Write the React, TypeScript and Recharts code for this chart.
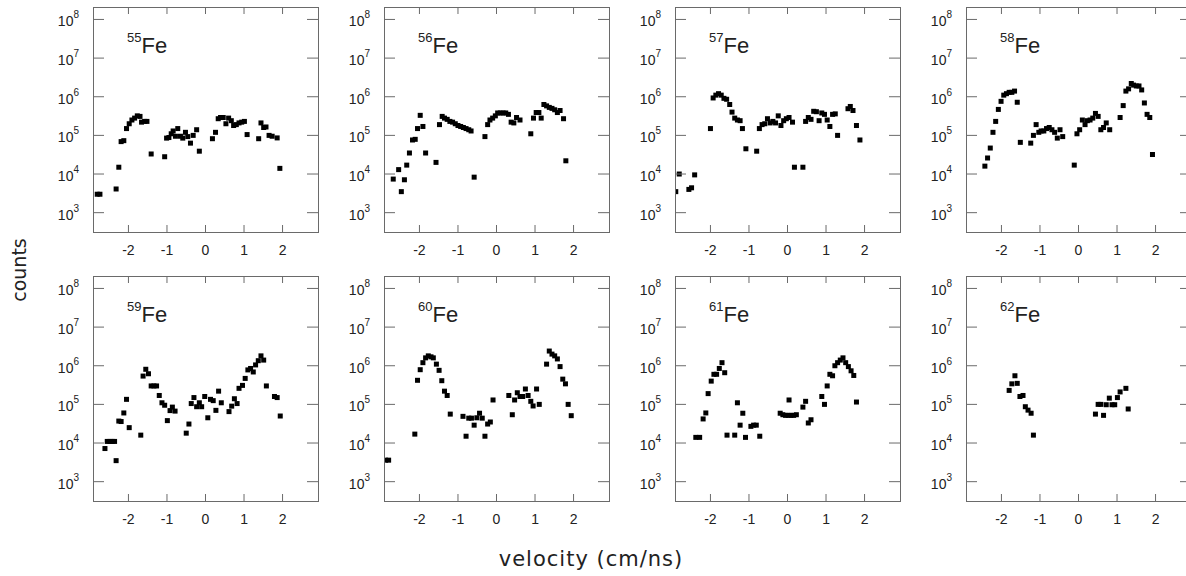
import React from 'react';
import { ScatterChart, Scatter, XAxis, YAxis } from 'recharts';

// velocity (cm/ns) and counts, one pair of arrays per isotope
const v55 = [-2.81, -2.74, -2.32, -2.25, -2.19, -2.12, -2.05, -1.98, -1.91, -1.84, -1.77, -1.70, -1.66, -1.58, -1.52, -1.41, -1.06, -1.01, -0.95, -0.89, -0.84, -0.78, -0.72, -0.65, -0.59, -0.52, -0.46, -0.39, -0.32, -0.23, -0.16, 0.18, 0.26, 0.33, 0.39, 0.46, 0.53, 0.60, 0.67, 0.73, 0.80, 0.87, 0.94, 1.01, 1.08, 1.38, 1.44, 1.51, 1.57, 1.65, 1.73, 1.86, 1.93];
const c55 = [3.0e3, 3.0e3, 4.1e3, 1.5e4, 6.9e4, 7.3e4, 1.5e5, 2.0e5, 2.5e5, 2.8e5, 3.2e5, 3.1e5, 2.2e5, 2.3e5, 2.3e5, 3.3e4, 2.8e4, 8.5e4, 8.8e4, 1.1e5, 1.3e5, 9.5e4, 1.5e5, 9.5e4, 8.5e4, 1.2e5, 9.3e4, 6.3e4, 1.0e5, 1.4e5, 3.9e4, 8.2e4, 1.2e5, 2.7e5, 2.9e5, 2.9e5, 2.0e5, 2.8e5, 2.4e5, 1.8e5, 1.9e5, 2.1e5, 2.2e5, 2.3e5, 1.05e5, 8.2e4, 2.1e5, 1.6e5, 1.65e5, 1.0e5, 9.5e4, 8.6e4, 1.4e4];

const v56 = [-2.68, -2.54, -2.47, -2.39, -2.33, -2.26, -2.18, -2.11, -2.05, -1.98, -1.91, -1.84, -1.57, -1.48, -1.41, -1.35, -1.28, -1.21, -1.14, -1.07, -1.00, -0.93, -0.86, -0.79, -0.72, -0.66, -0.58, -0.30, -0.23, -0.17, -0.10, -0.03, 0.03, 0.10, 0.17, 0.24, 0.31, 0.38, 0.45, 0.52, 0.61, 0.89, 0.96, 1.03, 1.10, 1.16, 1.23, 1.30, 1.37, 1.44, 1.51, 1.58, 1.65, 1.74, 1.80];
const c56 = [7.4e3, 1.3e4, 3.5e3, 7.1e3, 1.7e4, 3.5e4, 7.6e4, 7.9e4, 1.5e5, 3.3e5, 1.7e5, 3.5e4, 2.0e4, 1.9e5, 3.1e5, 2.8e5, 2.6e5, 2.3e5, 2.2e5, 2.0e5, 1.8e5, 1.7e5, 1.6e5, 1.5e5, 1.4e5, 1.3e5, 8.3e3, 9.3e4, 1.9e5, 2.5e5, 2.8e5, 3.2e5, 3.8e5, 3.8e5, 3.8e5, 3.8e5, 3.5e5, 2.2e5, 2.1e5, 2.9e5, 2.5e5, 1.1e5, 2.8e5, 3.9e5, 3.9e5, 2.8e5, 6.3e5, 5.8e5, 5.3e5, 5.0e5, 4.6e5, 3.9e5, 4.4e5, 2.7e5, 2.2e4];

const v57 = [-2.90, -2.81, -2.56, -2.49, -2.41, -2.00, -1.93, -1.86, -1.79, -1.72, -1.65, -1.58, -1.50, -1.44, -1.37, -1.30, -1.23, -1.17, -1.08, -0.80, -0.73, -0.66, -0.59, -0.52, -0.45, -0.38, -0.31, -0.24, -0.17, -0.10, -0.03, 0.04, 0.13, 0.18, 0.40, 0.47, 0.54, 0.61, 0.68, 0.75, 0.82, 0.89, 0.96, 1.03, 1.10, 1.17, 1.24, 1.30, 1.57, 1.63, 1.70, 1.79, 1.88];
const c57 = [3.5e3, 1.0e4, 4.0e3, 4.4e3, 9.5e3, 1.5e5, 9.3e5, 1.1e6, 1.2e6, 1.1e6, 9.1e5, 8.6e5, 6.3e5, 4.0e5, 2.8e5, 2.5e5, 2.4e5, 1.5e5, 4.5e4, 3.9e4, 1.5e5, 1.9e5, 2.0e5, 2.7e5, 2.1e5, 2.3e5, 2.1e5, 3.2e5, 1.8e5, 2.4e5, 2.7e5, 2.9e5, 2.2e5, 1.5e4, 1.5e4, 2.3e5, 2.9e5, 2.6e5, 4.2e5, 4.1e5, 2.4e5, 3.8e5, 3.5e5, 2.5e5, 1.7e5, 3.5e5, 3.6e5, 1.0e5, 4.9e5, 5.6e5, 4.4e5, 1.8e5, 7.6e4];

const v58 = [-2.43, -2.36, -2.29, -2.22, -2.15, -2.08, -2.01, -1.94, -1.87, -1.80, -1.73, -1.66, -1.59, -1.51, -1.24, -1.17, -1.10, -1.03, -0.97, -0.90, -0.83, -0.76, -0.69, -0.62, -0.55, -0.48, -0.41, -0.11, -0.04, 0.03, 0.10, 0.17, 0.23, 0.30, 0.37, 0.44, 0.51, 0.58, 0.65, 0.72, 0.81, 1.08, 1.16, 1.23, 1.30, 1.37, 1.43, 1.50, 1.57, 1.64, 1.71, 1.78, 1.85, 1.92];
const c58 = [1.6e4, 2.6e4, 4.7e4, 1.2e5, 2.3e5, 4.7e5, 7.6e5, 1.1e6, 1.2e6, 1.3e6, 1.3e6, 1.4e6, 7.2e5, 6.6e4, 6.3e4, 1.0e5, 1.9e5, 1.2e5, 1.3e5, 1.3e5, 1.5e5, 1.6e5, 1.4e5, 1.2e5, 8.5e4, 1.4e5, 9.3e4, 1.7e4, 1.1e5, 1.4e5, 2.5e5, 1.9e5, 2.4e5, 2.5e5, 2.8e5, 3.7e5, 3.1e5, 1.4e5, 1.6e5, 2.1e5, 1.4e5, 2.9e5, 5.9e5, 1.4e6, 1.6e6, 2.2e6, 2.0e6, 1.9e6, 1.9e6, 1.5e6, 6.9e5, 3.5e5, 2.9e5, 3.2e4];

const v59 = [-2.61, -2.55, -2.48, -2.42, -2.36, -2.32, -2.25, -2.19, -2.12, -2.05, -1.98, -1.68, -1.62, -1.55, -1.48, -1.41, -1.34, -1.27, -1.20, -1.13, -1.06, -0.99, -0.92, -0.86, -0.79, -0.50, -0.43, -0.37, -0.30, -0.23, -0.16, -0.10, -0.02, 0.06, 0.13, 0.20, 0.27, 0.34, 0.41, 0.61, 0.68, 0.75, 0.82, 0.87, 0.96, 1.03, 1.10, 1.17, 1.24, 1.30, 1.37, 1.44, 1.51, 1.58, 1.79, 1.86, 1.94];
const c59 = [7.2e3, 1.1e4, 1.1e4, 1.1e4, 1.1e4, 3.5e3, 3.7e4, 3.6e4, 6.0e4, 1.35e5, 2.5e4, 1.6e4, 5.4e5, 8.1e5, 6.2e5, 3.0e5, 3.0e5, 3.0e5, 1.7e5, 1.1e5, 9.5e4, 3.8e4, 6.9e4, 8.5e4, 6.7e4, 1.8e4, 3.1e4, 1.05e5, 1.5e5, 8.7e4, 1.1e5, 8.7e4, 1.6e5, 4.5e4, 1.35e5, 1.25e5, 7.0e4, 2.2e5, 1.1e5, 6.5e4, 9.0e4, 1.4e5, 1.05e5, 2.6e5, 3.1e5, 4.7e5, 7.8e5, 8.5e5, 6.9e5, 1.05e6, 1.35e6, 1.8e6, 1.4e6, 3.0e5, 1.6e5, 1.5e5, 5.0e4];

const v60 = [-2.88, -2.80, -2.12, -2.05, -1.98, -1.91, -1.84, -1.77, -1.70, -1.64, -1.56, -1.49, -1.42, -1.35, -1.28, -1.20, -0.87, -0.79, -0.72, -0.65, -0.58, -0.51, -0.44, -0.37, -0.30, -0.23, -0.16, -0.09, 0.32, 0.41, 0.47, 0.54, 0.61, 0.68, 0.75, 0.82, 0.89, 0.95, 1.04, 1.11, 1.30, 1.37, 1.44, 1.51, 1.58, 1.65, 1.72, 1.79, 1.86, 1.94];
const c60 = [3.6e3, 3.6e3, 1.7e4, 4.2e5, 7.9e5, 1.2e6, 1.6e6, 1.8e6, 1.7e6, 1.6e6, 1.1e6, 7.6e5, 4.1e5, 2.2e5, 1.7e5, 5.6e4, 4.9e4, 1.5e4, 4.4e4, 4.4e4, 2.9e4, 4.5e4, 5.9e4, 4.4e4, 1.5e4, 3.1e4, 3.5e4, 1.3e5, 1.7e5, 5.4e4, 1.3e5, 2.0e5, 1.6e5, 1.6e5, 2.5e5, 1.7e5, 1.2e5, 9.1e4, 2.5e5, 1.0e5, 1.1e6, 2.4e6, 2.0e6, 1.8e6, 1.5e6, 9.5e5, 4.5e5, 3.4e5, 1.0e5, 5.1e4];

const v61 = [-2.38, -2.28, -2.19, -2.12, -2.06, -1.98, -1.91, -1.84, -1.77, -1.70, -1.63, -1.57, -1.37, -1.30, -1.23, -1.16, -1.09, -0.95, -0.88, -0.81, -0.72, -0.19, -0.12, -0.05, 0.02, 0.04, 0.09, 0.16, 0.23, 0.40, 0.47, 0.54, 0.61, 0.89, 0.96, 1.03, 1.10, 1.17, 1.23, 1.30, 1.37, 1.44, 1.51, 1.58, 1.65, 1.72, 1.79];
const c61 = [1.4e4, 1.4e4, 4.2e4, 6.0e4, 1.9e5, 4.0e5, 6.0e5, 6.0e5, 8.5e5, 1.2e6, 6.6e5, 1.6e4, 1.6e4, 1.1e5, 2.9e4, 5.9e4, 1.4e4, 2.7e4, 2.9e4, 2.9e4, 1.5e4, 5.9e4, 5.4e4, 5.2e4, 5.2e4, 1.3e5, 5.2e4, 5.2e4, 5.4e4, 8.5e4, 1.2e5, 3.3e4, 4.0e4, 1.6e5, 1.0e5, 3.0e5, 6.0e5, 5.5e5, 1.0e6, 1.2e6, 1.4e6, 1.6e6, 1.2e6, 9.5e5, 7.4e5, 5.6e5, 1.15e5];

const v62 = [-1.80, -1.73, -1.65, -1.59, -1.52, -1.44, -1.38, -1.31, -1.23, -1.17, 0.44, 0.51, 0.58, 0.65, 0.72, 0.80, 0.87, 0.94, 1.01, 1.08, 1.23, 1.29];
const c62 = [2.3e5, 3.4e5, 5.5e5, 3.5e5, 1.6e5, 1.7e5, 8.7e4, 7.1e4, 5.9e4, 1.6e4, 5.6e4, 1.0e5, 1.0e5, 5.2e4, 9.8e4, 1.45e5, 9.8e4, 9.8e4, 1.5e5, 2.1e5, 2.6e5, 7.6e4];

const isotopes = ['55', '56', '57', '58', '59', '60', '61', '62'];
const velocities = [v55, v56, v57, v58, v59, v60, v61, v62];
const counts = [c55, c56, c57, c58, c59, c60, c61, c62];

const velocityTicks = [-2, -1, 0, 1, 2];
const countTicks = [1e3, 1e4, 1e5, 1e6, 1e7, 1e8];

const X_DOMAIN = [-2.92, 2.92];
const Y_DOMAIN = [316, 2.1e8];

const FRAME = '#6a6a6a';
const INK = '#222';
const NUM_FONT = '"Liberation Sans", Arial, sans-serif';
const TITLE_FONT = '"DejaVu Sans", sans-serif';

// frame positions (plot area, 225 x 225)
const colLeft = [93, 384, 675, 966];
const rowTop = [7, 276];
const PLOT = 225;
const AX_W = 60;

// ticks point inward on all four sides of the box
const BottomTick = ({ x, y, payload }: any) => (
  <g>
    <line x1={x} y1={y} x2={x} y2={y - 7} stroke={FRAME} />
    <line x1={x} y1={y - PLOT} x2={x} y2={y - PLOT + 7} stroke={FRAME} />
    <text x={x} y={y + 23} textAnchor="middle" fontSize={14} fill={INK} fontFamily={NUM_FONT}>
      {String(payload.value)}
    </text>
  </g>
);

const LeftTick = ({ x, y, payload }: any) => (
  <g>
    <line x1={x} y1={y} x2={x + 11} y2={y} stroke={FRAME} />
    <line x1={x + PLOT} y1={y} x2={x + PLOT - 11} y2={y} stroke={FRAME} />
    <text x={x - 14} y={y + 7} textAnchor="end" fontSize={14} fill={INK} fontFamily={NUM_FONT}>
      10<tspan dy={-8} fontSize={10}>{Math.round(Math.log10(payload.value))}</tspan>
    </text>
  </g>
);

const Square = ({ cx, cy }: any) => <rect x={cx - 2.5} y={cy - 2.5} width={5} height={5} fill="#000" />;

const Panel = ({ idx }: { idx: number }) => {
  const data = velocities[idx].map((v, i) => ({ v, c: counts[idx][i] }));
  const left = colLeft[idx % 4];
  const top = rowTop[Math.floor(idx / 4)];
  return (
    <>
      <div style={{ position: 'absolute', left: left - AX_W, top: top - 5 }}>
        <ScatterChart width={AX_W + PLOT + 10} height={PLOT + 40} margin={{ top: 5, right: 10, bottom: 0, left: 0 }}>
          <XAxis dataKey="v" type="number" domain={X_DOMAIN} ticks={velocityTicks}
            allowDataOverflow interval={0} height={35} tickSize={0} tickMargin={0} axisLine={false}
            tick={(p: any) => <BottomTick {...p} />} />
          <YAxis dataKey="c" type="number" scale="log" domain={Y_DOMAIN} ticks={countTicks}
            allowDataOverflow interval={0} width={AX_W} tickSize={0} tickMargin={0} axisLine={false}
            tick={(p: any) => <LeftTick {...p} />} />
          <Scatter data={data} shape={(p: any) => <Square {...p} />} isAnimationActive={false} />
        </ScatterChart>
      </div>
      <div style={{
        position: 'absolute', left, top, width: PLOT + 1, height: PLOT + 1,
        border: `1px solid ${FRAME}`, boxSizing: 'border-box', pointerEvents: 'none',
      }} />
    </>
  );
};

export default function App() {
  return (
    <div style={{ position: 'absolute', left: 0, top: 0, width: 1186, height: 576, overflow: 'hidden', background: '#fff' }}>
      {isotopes.map((iso, i) => (
        <Panel key={iso} idx={i} />
      ))}
      <svg width={1186} height={576} style={{ position: 'absolute', left: 0, top: 0, pointerEvents: 'none' }}>
        {isotopes.map((iso, i) => (
          <text key={iso} x={colLeft[i % 4] + 34} y={rowTop[Math.floor(i / 4)] + 46} fill={INK} fontFamily={NUM_FONT}>
            <tspan fontSize={13} dy={-11}>{iso}</tspan>
            <tspan fontSize={22} dy={11}>Fe</tspan>
          </text>
        ))}
        <text x={591} y={566} textAnchor="middle" fontSize={21} letterSpacing={1} fill={INK} fontFamily={TITLE_FONT}>
          velocity (cm/ns)
        </text>
        <text x={26} y={270} textAnchor="middle" fontSize={19} fill={INK} fontFamily={TITLE_FONT}
          transform="rotate(-90 26 270)">
          counts
        </text>
      </svg>
    </div>
  );
}
